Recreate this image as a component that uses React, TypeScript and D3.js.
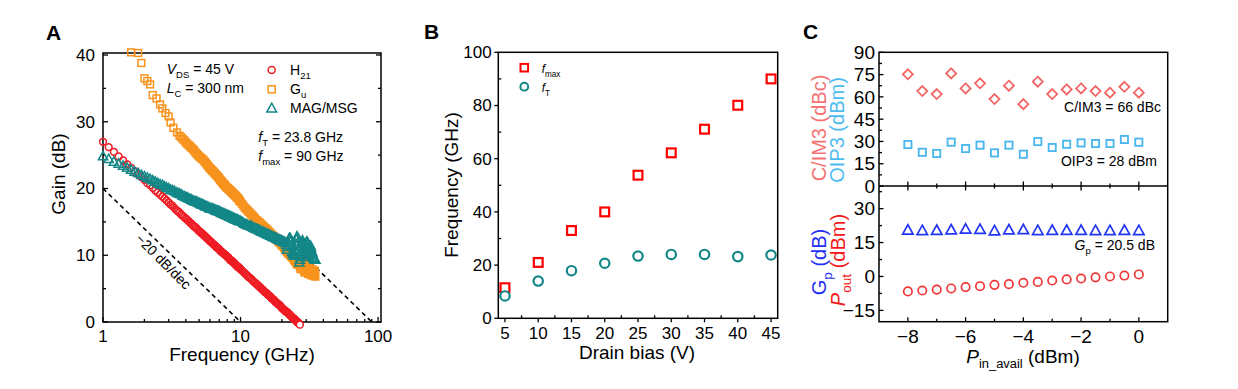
import React from 'react';
import * as d3 from 'd3';

const FONT = 'Arial, "Liberation Sans", Helvetica, sans-serif';

// ---- Panel A: gain vs frequency (GHz / dB) ----
// measurement sweep shared by H21 and MAG/MSG
const freqA = [1.0, 1.1, 1.2, 1.3, 1.4, 1.5, 1.6, 1.7, 1.8, 1.9, 2.0, 2.1, 2.2, 2.3, 2.4, 2.5, 2.6, 2.7, 2.8, 2.9, 3.0,
  3.1, 3.2, 3.3, 3.4, 3.5, 3.6, 3.7, 3.8, 3.9, 4.0, 4.1, 4.2, 4.3, 4.4, 4.5, 4.6, 4.7, 4.8, 4.9, 5.0,
  5.1, 5.2, 5.3, 5.4, 5.5, 5.6, 5.7, 5.8, 5.9, 6.0, 6.1, 6.2, 6.3, 6.4, 6.5, 6.6, 6.7, 6.8, 6.9, 7.0,
  7.1, 7.2, 7.3, 7.4, 7.5, 7.6, 7.7, 7.8, 7.9, 8.0, 8.1, 8.2, 8.3, 8.4, 8.5, 8.6, 8.7, 8.8, 8.9, 9.0,
  9.1, 9.2, 9.3, 9.4, 9.5, 9.6, 9.7, 9.8, 9.9, 10.0,
  10.25, 10.5, 10.75, 11, 11.25, 11.5, 11.75, 12, 12.25, 12.5, 12.75, 13, 13.25, 13.5, 13.75, 14, 14.25, 14.5, 14.75, 15,
  15.25, 15.5, 15.75, 16, 16.25, 16.5, 16.75, 17, 17.25, 17.5, 17.75, 18, 18.25, 18.5, 18.75, 19, 19.25, 19.5, 19.75, 20,
  20.25, 20.5, 20.75, 21, 21.25, 21.5, 21.75, 22, 22.25, 22.5, 22.75, 23, 23.25, 23.5, 23.75, 24, 24.25, 24.5, 24.75, 25,
  25.25, 25.5, 25.75, 26, 26.25, 26.5, 26.75, 27, 27.25, 27.5, 27.75, 28, 28.25, 28.5, 28.75, 29, 29.25, 29.5, 29.75, 30,
  30.25, 30.5, 30.75, 31, 31.25, 31.5, 31.75, 32, 32.25, 32.5, 32.75, 33, 33.25, 33.5, 33.75, 34, 34.25, 34.5, 34.75, 35];
const h21Gain = [27.0, 26.2, 25.5, 24.8, 24.2, 23.6, 23.1, 22.6, 22.1, 21.7, 21.3, 20.8, 20.5, 20.1, 19.7, 19.4, 19.1, 18.8, 18.5, 18.2, 17.9,
  17.6, 17.4, 17.1, 16.8, 16.6, 16.4, 16.1, 15.9, 15.7, 15.5, 15.3, 15.1, 14.9, 14.7, 14.5, 14.3, 14.2, 14.0, 13.8, 13.6,
  13.5, 13.3, 13.2, 13.0, 12.9, 12.7, 12.6, 12.4, 12.3, 12.1, 12.0, 11.9, 11.7, 11.6, 11.5, 11.3, 11.2, 11.1, 11.0, 10.9,
  10.7, 10.6, 10.5, 10.4, 10.3, 10.2, 10.1, 10.0, 9.9, 9.8, 9.7, 9.6, 9.4, 9.3, 9.2, 9.2, 9.1, 9.0, 8.9, 8.8,
  8.7, 8.6, 8.5, 8.4, 8.3, 8.2, 8.2, 8.1, 8.0, 7.9,
  7.7, 7.5, 7.3, 7.1, 6.9, 6.7, 6.6, 6.4, 6.2, 6.0, 5.9, 5.7, 5.6, 5.4, 5.3, 5.1, 5.0, 4.8, 4.7, 4.5,
  4.4, 4.3, 4.1, 4.0, 3.9, 3.8, 3.6, 3.5, 3.4, 3.3, 3.1, 3.0, 2.9, 2.8, 2.7, 2.6, 2.5, 2.4, 2.2, 2.1,
  2.0, 1.9, 1.8, 1.7, 1.6, 1.6, 1.5, 1.4, 1.3, 1.2, 1.1, 1.0, 0.9, 0.8, 0.7, 0.6, 0.5, 0.5, 0.4, 0.3,
  0.2, 0.1, 0.0, 0.0, -0.1, -0.2, -0.3, -0.4];
const magGain = [24.8, 24.4, 24.0, 23.7, 23.4, 23.1, 22.8, 22.5, 22.3, 22.0, 21.8, 21.6, 21.4, 21.2, 21.0, 20.8, 20.6, 20.5, 20.3, 20.1, 20.0,
  19.8, 19.7, 19.6, 19.4, 19.3, 19.2, 19.1, 18.9, 18.8, 18.7, 18.6, 18.5, 18.4, 18.3, 18.2, 18.1, 18.0, 18.0, 17.9, 17.8,
  17.7, 17.6, 17.6, 17.5, 17.4, 17.3, 17.3, 17.2, 17.1, 17.0, 17.0, 17.0, 16.9, 16.9, 16.8, 16.7, 16.7, 16.6, 16.6, 16.5,
  16.5, 16.4, 16.3, 16.3, 16.2, 16.2, 16.1, 16.1, 16.0, 16.0, 15.9, 15.9, 15.8, 15.8, 15.7, 15.7, 15.6, 15.6, 15.5, 15.5,
  15.4, 15.4, 15.3, 15.3, 15.3, 15.2, 15.2, 15.1, 15.1, 15.1,
  15.0, 14.8, 14.7, 14.6, 14.5, 14.4, 14.4, 14.3, 14.2, 14.1, 14.0, 13.9, 13.9, 13.8, 13.7, 13.6, 13.5, 13.5, 13.4, 13.3,
  13.3, 13.2, 13.1, 13.1, 13.0, 12.9, 12.9, 12.8, 12.7, 12.7, 12.6, 12.6, 12.5, 12.4, 12.4, 12.3, 12.3, 12.2, 12.2, 12.1,
  12.1, 12.0, 12.0, 11.9, 11.8, 11.5, 10.8, 11.2, 11.9, 12.4, 12.6, 12.5, 12.1, 11.3, 10.5, 10.2, 10.4, 10.0, 9.9, 10.6,
  11.6, 12.4, 12.8, 12.6, 12.0, 10.9, 8.9, 9.3, 9.8, 10.5, 11.3, 11.9, 12.2, 11.8, 10.9, 10.0, 9.7, 10.1, 10.8, 11.5,
  12.0, 12.0, 11.6, 11.0, 10.5, 10.3, 10.6, 11.2, 11.4, 11.1, 10.7, 10.5, 10.3, 10.0, 9.8, 9.6, 9.5, 9.4, 9.3, 9.3];
const guFreq = [1.6, 1.8, 1.9, 2.0, 2.1, 2.2, 2.3, 2.45, 2.6, 2.7, 2.85, 3.0, 3.1, 3.25, 3.45, 3.6,
  3.7, 3.8, 3.9, 4.0, 4.1, 4.2, 4.3, 4.4, 4.5, 4.6, 4.7, 4.8, 4.9, 5.0,
  5.1, 5.2, 5.3, 5.4, 5.5, 5.6, 5.7, 5.8, 5.9, 6.0, 6.1, 6.2, 6.3, 6.4, 6.5, 6.6, 6.7, 6.8, 6.9, 7.0,
  7.1, 7.2, 7.3, 7.4, 7.5, 7.6, 7.7, 7.8, 7.9, 8.0, 8.1, 8.2, 8.3, 8.4, 8.5, 8.6, 8.7, 8.8, 8.9, 9.0,
  9.1, 9.2, 9.3, 9.4, 9.5, 9.6, 9.7, 9.8, 9.9, 10.0,
  10.25, 10.5, 10.75, 11, 11.25, 11.5, 11.75, 12, 12.25, 12.5, 12.75, 13, 13.25, 13.5, 13.75, 14, 14.25, 14.5, 14.75, 15,
  15.25, 15.5, 15.75, 16, 16.25, 16.5, 16.75, 17, 17.25, 17.5, 17.75, 18, 18.25, 18.5, 18.75, 19, 19.25, 19.5, 19.75, 20,
  20.25, 20.5, 20.75, 21, 21.25, 21.5, 21.75, 22, 22.25, 22.5, 22.75, 23, 23.25, 23.5, 23.75, 24, 24.25, 24.5, 24.75, 25,
  25.25, 25.5, 25.75, 26, 26.25, 26.5, 26.75, 27, 27.25, 27.5, 27.75, 28, 28.25, 28.5, 28.75, 29, 29.25, 29.5, 29.75, 30,
  30.25, 30.5, 30.75, 31, 31.25, 31.5, 31.75, 32, 32.25, 32.5, 32.75, 33, 33.25, 33.5, 33.75, 34, 34.25, 34.5, 34.75, 35];
const guGain = [40.4, 40.3, 38.8, 36.5, 36.1, 35.6, 34.0, 33.5, 32.6, 32.0, 31.3, 30.8, 29.9, 29.1, 28.4, 27.9,
  27.7, 27.4, 27.2, 26.9, 26.7, 26.5, 26.3, 26.1, 25.9, 25.7, 25.4, 25.2, 25.0, 24.8,
  24.7, 24.5, 24.4, 24.2, 24.0, 23.8, 23.6, 23.4, 23.2, 23.0, 22.9, 22.7, 22.6, 22.4, 22.3, 22.1, 22.0, 21.8, 21.7, 21.5,
  21.3, 21.2, 21.0, 20.9, 20.7, 20.6, 20.5, 20.3, 20.2, 20.1, 20.0, 19.9, 19.8, 19.7, 19.6, 19.5, 19.4, 19.3, 19.2, 19.1,
  19.0, 18.9, 18.8, 18.7, 18.6, 18.5, 18.4, 18.2, 18.1, 18.0,
  17.7, 17.4, 17.1, 16.9, 16.7, 16.5, 16.3, 16.1, 15.9, 15.7, 15.5, 15.3, 15.2, 15.0, 14.9, 14.7, 14.6, 14.4, 14.3, 14.1,
  14.0, 13.9, 13.7, 13.6, 13.4, 13.3, 13.1, 13.0, 12.9, 12.8, 12.6, 12.5, 12.4, 12.3, 12.1, 12.0, 11.9, 11.8, 11.6, 11.5,
  11.4, 11.3, 11.1, 11.0, 10.8, 10.7, 10.5, 10.4, 10.3, 10.2, 10.1, 10.0, 9.9, 9.8, 9.7, 9.6, 9.5, 9.3, 9.2, 9.1,
  9.0, 8.8, 8.7, 8.6, 8.8, 8.9, 8.6, 8.3, 8.0, 7.9, 8.2, 8.6, 8.8, 8.5, 8.0, 7.6, 7.4, 7.7, 8.2, 8.5,
  8.3, 7.8, 7.4, 7.2, 7.5, 7.9, 8.1, 7.8, 7.4, 7.0, 7.2, 7.6, 7.9, 7.6, 7.2, 6.9, 7.0, 7.4, 7.7, 6.8];
// -20 dB/dec guide lines: [start, end]
const guideFreq = [[1, 10], [22, 90]];
const guideGain = [[20, 0], [12.3, 0]];
const aYTicks = [0, 10, 20, 30, 40];
const aXTicks = [1, 10, 100];

// ---- Panel B: fmax / fT vs drain bias ----
const biasV = [5, 10, 15, 20, 25, 30, 35, 40, 45];
const fmaxB = [11.5, 21, 33, 40, 53.8, 62.2, 71.1, 80.1, 90];
const ftB = [8.4, 14, 17.9, 20.7, 23.4, 24, 24, 23.2, 23.8];
const bYTicks = [0, 20, 40, 60, 80, 100];

// ---- Panel C: linearity vs input power ----
const pin = [-8, -7.5, -7, -6.5, -6, -5.5, -5, -4.5, -4, -3.5, -3, -2.5, -2, -1.5, -1, -0.5, 0];
const cim3 = [75.2, 63.9, 61.9, 75.8, 65.7, 69.1, 58.5, 67.5, 55.1, 70.2, 61.9, 65.0, 65.7, 63.9, 62.8, 66.8, 62.8];
const oip3 = [27.9, 22.7, 21.9, 29.5, 25.2, 27.5, 22.3, 27.5, 21.4, 29.9, 25.9, 28.1, 29.0, 28.6, 28.6, 31.3, 29.5];
const gp = [20.4, 20.2, 20.3, 20.5, 20.8, 20.7, 20.1, 20.5, 20.6, 20.2, 20.3, 20.3, 20.3, 20.2, 20.2, 20.3, 20.2];
const pout = [-6.6, -6.2, -5.8, -5.3, -4.7, -4.3, -3.7, -3.4, -2.8, -2.4, -1.8, -1.3, -0.9, -0.4, 0.0, 0.4, 0.9];
const cTopTicks = [0, 15, 30, 45, 60, 75, 90];
const cBotTicks = [-15, 0, 15, 30];
const cXTicks = [-8, -6, -4, -2, 0];

const RED = '#ee1c24';
const ORANGE = '#f7931e';
const TEAL = '#138787';

type Part = { t: string; sub?: boolean; it?: boolean };

function Rich({ x, y, parts, size, anchor = 'start', fill = '#000', transform }:
  { x?: number; y?: number; parts: Part[]; size: number; anchor?: string; fill?: string; transform?: string }) {
  let shift = 0;
  return (
    <text x={x} y={y} fontSize={size} textAnchor={anchor} fill={fill} transform={transform} fontFamily={FONT}>
      {parts.map((p, i) => {
        const target = p.sub ? size * 0.3 : 0;
        const dy = target - shift;
        shift = target;
        return (
          <tspan key={i} dy={dy} fontSize={p.sub ? size * 0.68 : size} fontStyle={p.it ? 'italic' : 'normal'} fill={fill}>
            {p.t}
          </tspan>
        );
      })}
    </text>
  );
}

const triPath = (cx: number, cy: number, s: number) =>
  `M${cx},${cy - s * 0.62}L${cx + s * 0.58},${cy + s * 0.42}L${cx - s * 0.58},${cy + s * 0.42}Z`;
const diaPath = (cx: number, cy: number, s: number) =>
  `M${cx},${cy - s}L${cx + s},${cy}L${cx},${cy + s}L${cx - s},${cy}Z`;

const fmtMinus = (v: number) => (v < 0 ? '\u2212' + Math.abs(v) : String(v));

export default function App() {
  // scales
  const xA = d3.scaleLog().domain([1, 105]).range([103, 381]);
  const yA = d3.scaleLinear().domain([0, 40.3]).range([322, 53]);
  const xB = d3.scaleLinear().domain([4, 46]).range([498.3, 777.7]);
  const yB = d3.scaleLinear().domain([0, 100]).range([318.3, 52.3]);
  const xC = d3.scaleLinear().domain([-9, 1]).range([879, 1167.7]);
  const yCt = d3.scaleLinear().domain([0, 90]).range([186, 52.3]);
  const yCb = d3.scaleLinear().domain([-20, 40]).range([321.7, 186]);

  const aMinorX = xA.ticks().filter(t => !aXTicks.includes(t));
  const aMinorY = yA.ticks(8).filter(t => !aYTicks.includes(t));
  const bMinorX = d3.range(7.5, 45, 5);
  const bMinorY = [10, 30, 50, 70, 90];
  const cMinorX = [-7, -5, -3, -1];
  const cMinorTop = [7.5, 22.5, 37.5, 52.5, 67.5, 82.5];
  const cMinorBot = [-7.5, 7.5, 22.5, 37.5];

  const axis = { stroke: '#000', strokeWidth: 1.5, fill: 'none' };
  const tick = { stroke: '#000', strokeWidth: 1.3 };

  const [aL, aR] = xA.range();
  const [aB, aT] = yA.range();
  const [bL, bR] = xB.range();
  const [bB, bT] = yB.range();
  const [cL, cR] = xC.range();
  const cMid = yCt(0);
  const cB = yCb(-20);
  const cT = yCt(90);
  const lastH = h21Gain.length - 1;

  return (
    <svg width={1238} height={389} style={{ position: 'absolute', left: 0, top: 0, background: '#fff' }}
      fontFamily={FONT}>
      <rect width={1238} height={389} fill="#fff" />

      {/* ================= Panel A ================= */}
      <text x={46} y={40} fontSize={21} fontWeight="bold">A</text>
      <rect x={aL} y={aT} width={aR - aL} height={aB - aT} {...axis} />
      {aXTicks.map(t => (
        <g key={'ax' + t}>
          <line x1={xA(t)} x2={xA(t)} y1={aB} y2={aB - 5} {...tick} />
          <text x={xA(t)} y={342} fontSize={17} textAnchor="middle">{t}</text>
        </g>
      ))}
      {aMinorX.map(t => <line key={'amx' + t} x1={xA(t)} x2={xA(t)} y1={aB} y2={aB - 3} {...tick} />)}
      {aYTicks.map(t => (
        <g key={'ay' + t}>
          <line x1={aL} x2={aL + 5} y1={yA(t)} y2={yA(t)} {...tick} />
          <line x1={aR} x2={aR - 5} y1={yA(t)} y2={yA(t)} {...tick} />
          <text x={95} y={yA(t)} dy="0.35em" fontSize={17} textAnchor="end">{t}</text>
        </g>
      ))}
      {aMinorY.map(t => (
        <g key={'amy' + t}>
          <line x1={aL} x2={aL + 3} y1={yA(t)} y2={yA(t)} {...tick} />
          <line x1={aR} x2={aR - 3} y1={yA(t)} y2={yA(t)} {...tick} />
        </g>
      ))}
      {/* guide lines */}
      {guideFreq.map((fs, i) => (
        <line key={i} x1={xA(fs[0])} y1={yA(guideGain[i][0])} x2={xA(fs[1])} y2={yA(guideGain[i][1])}
          stroke="#000" strokeWidth={1.6} strokeDasharray="4.5,3.5" />
      ))}
      {/* H21 */}
      {h21Gain.map((g, i) => (
        <circle key={'h' + i} cx={xA(freqA[i])} cy={yA(g)} r={3.4}
          fill={i === lastH ? '#fff' : 'none'} stroke={RED} strokeWidth={1.5} />
      ))}
      {/* Gu */}
      {guGain.map((g, i) => (
        <rect key={'g' + i} x={xA(guFreq[i]) - 3.4} y={yA(g) - 3.4} width={6.8} height={6.8} fill="none"
          stroke={ORANGE} strokeWidth={1.5} />
      ))}
      {/* MAG/MSG */}
      {magGain.map((g, i) => (
        <path key={'m' + i} d={triPath(xA(freqA[i]), yA(g), 8)} fill="none" stroke={TEAL} strokeWidth={1.5} />
      ))}
      <text transform="translate(65,174) rotate(-90)" fontSize={19} textAnchor="middle">Gain (dB)</text>
      <text x={(aL + aR) / 2} y={361} fontSize={19} textAnchor="middle">Frequency (GHz)</text>
      <text transform="translate(160,265) rotate(45)" fontSize={14} textAnchor="middle">{'\u221220 dB/dec'}</text>
      {/* annotations */}
      <Rich x={166.7} y={74} size={14} parts={[{ t: 'V', it: true }, { t: 'DS', sub: true }, { t: ' = 45 V' }]} />
      <Rich x={166.7} y={93} size={14} parts={[{ t: 'L', it: true }, { t: 'C', sub: true }, { t: ' = 300 nm' }]} />
      <Rich x={258.3} y={142} size={14} parts={[{ t: 'f', it: true }, { t: 'T', sub: true }, { t: ' = 23.8 GHz' }]} />
      <Rich x={258.3} y={160.5} size={14} parts={[{ t: 'f', it: true }, { t: 'max', sub: true }, { t: ' = 90 GHz' }]} />
      {/* legend */}
      <circle cx={271.7} cy={70} r={3.5} fill="none" stroke={RED} strokeWidth={1.5} />
      <rect x={268.2} y={85.8} width={7} height={7} fill="none" stroke={ORANGE} strokeWidth={1.5} />
      <path d={triPath(271.7, 108.5, 8.5)} fill="none" stroke={TEAL} strokeWidth={1.5} />
      <Rich x={290} y={75} size={14} parts={[{ t: 'H' }, { t: '21', sub: true }]} />
      <Rich x={290} y={94} size={14} parts={[{ t: 'G' }, { t: 'u', sub: true }]} />
      <text x={290} y={113} fontSize={14}>MAG/MSG</text>

      {/* ================= Panel B ================= */}
      <text x={424} y={38.5} fontSize={21} fontWeight="bold">B</text>
      <rect x={bL} y={bT} width={bR - bL} height={bB - bT} {...axis} />
      {biasV.map(t => (
        <g key={'bx' + t}>
          <line x1={xB(t)} x2={xB(t)} y1={bB} y2={bB + 4} {...tick} />
          <text x={xB(t)} y={338.5} fontSize={17} textAnchor="middle">{t}</text>
        </g>
      ))}
      {bMinorX.map(t => <line key={'bmx' + t} x1={xB(t)} x2={xB(t)} y1={bB} y2={bB - 3} {...tick} />)}
      {bYTicks.map(t => (
        <g key={'by' + t}>
          <line x1={bL} x2={bL - 4} y1={yB(t)} y2={yB(t)} {...tick} />
          <text x={491.7} y={yB(t)} dy="0.35em" fontSize={17} textAnchor="end">{t}</text>
        </g>
      ))}
      {bMinorY.map(t => <line key={'bmy' + t} x1={bL} x2={bL + 3} y1={yB(t)} y2={yB(t)} {...tick} />)}
      <text transform="translate(458,185) rotate(-90)" fontSize={19} textAnchor="middle">Frequency (GHz)</text>
      <text x={637} y={359} fontSize={19} textAnchor="middle">Drain bias (V)</text>
      {fmaxB.map((v, i) => (
        <rect key={'bf' + i} x={xB(biasV[i]) - 4.4} y={yB(v) - 4.4} width={8.8} height={8.8} fill="#fff"
          stroke="#ff0000" strokeWidth={2.2} />
      ))}
      {ftB.map((v, i) => (
        <circle key={'bt' + i} cx={xB(biasV[i])} cy={yB(v)} r={4.7} fill="#fff" stroke={TEAL} strokeWidth={2.2} />
      ))}
      <rect x={520.5} y={63.9} width={7.6} height={7.6} fill="none" stroke="#ff0000" strokeWidth={2} />
      <circle cx={524.3} cy={86.7} r={3.9} fill="none" stroke={TEAL} strokeWidth={2} />
      <Rich x={541.7} y={73} size={12} parts={[{ t: 'f', it: true }, { t: 'max', sub: true }]} />
      <Rich x={541.7} y={92} size={12} parts={[{ t: 'f', it: true }, { t: 'T', sub: true }]} />

      {/* ================= Panel C ================= */}
      <text x={803} y={38.5} fontSize={21} fontWeight="bold">C</text>
      <rect x={cL} y={cT} width={cR - cL} height={cB - cT} {...axis} />
      <line x1={cL} x2={cR} y1={cMid} y2={cMid} {...axis} />
      {cXTicks.map(t => (
        <g key={'cx' + t}>
          <line x1={xC(t)} x2={xC(t)} y1={cMid - 4.5} y2={cMid + 4.5} {...tick} />
          <line x1={xC(t)} x2={xC(t)} y1={cB} y2={cB - 4.5} {...tick} />
          <text x={xC(t)} y={343} fontSize={19} textAnchor="middle">{fmtMinus(t)}</text>
        </g>
      ))}
      {cMinorX.map(t => (
        <g key={'cmx' + t}>
          <line x1={xC(t)} x2={xC(t)} y1={cMid - 2.5} y2={cMid + 2.5} {...tick} />
          <line x1={xC(t)} x2={xC(t)} y1={cB} y2={cB - 3} {...tick} />
        </g>
      ))}
      {cTopTicks.map(t => (
        <g key={'cty' + t}>
          <line x1={cL} x2={cL + 4.5} y1={yCt(t)} y2={yCt(t)} {...tick} />
          <text x={875} y={yCt(t)} dy="0.35em" fontSize={19} textAnchor="end">{t}</text>
        </g>
      ))}
      {cMinorTop.map(t => <line key={'cmt' + t} x1={cL} x2={cL + 3} y1={yCt(t)} y2={yCt(t)} {...tick} />)}
      {cBotTicks.map(t => (
        <g key={'cby' + t}>
          <line x1={cL} x2={cL + 4.5} y1={yCb(t)} y2={yCb(t)} {...tick} />
          <text x={875} y={yCb(t)} dy="0.35em" fontSize={19} textAnchor="end">{fmtMinus(t)}</text>
        </g>
      ))}
      {cMinorBot.map(t => <line key={'cmb' + t} x1={cL} x2={cL + 3} y1={yCb(t)} y2={yCb(t)} {...tick} />)}
      {cim3.map((v, i) => (
        <path key={'ci' + i} d={diaPath(xC(pin[i]), yCt(v), 5)} fill="none" stroke="#f26565" strokeWidth={1.8} />
      ))}
      {oip3.map((v, i) => (
        <rect key={'co' + i} x={xC(pin[i]) - 3.6} y={yCt(v) - 3.6} width={7.2} height={7.2} fill="none"
          stroke="#47b5ee" strokeWidth={1.8} />
      ))}
      {gp.map((v, i) => (
        <path key={'cg' + i} d={triPath(xC(pin[i]), yCb(v), 9)} fill="none" stroke="#2236f2" strokeWidth={1.7} />
      ))}
      {pout.map((v, i) => (
        <circle key={'cp' + i} cx={xC(pin[i])} cy={yCb(v)} r={4.2} fill="none" stroke="#f23636" strokeWidth={1.7} />
      ))}
      <text x={1161} y={112} fontSize={14} textAnchor="end">C/IM3 = 66 dBc</text>
      <text x={1157} y={166} fontSize={14} textAnchor="end">OIP3 = 28 dBm</text>
      <Rich x={1155} y={250} size={14} anchor="end"
        parts={[{ t: 'G', it: true }, { t: 'p', sub: true }, { t: ' = 20.5 dB' }]} />
      <text transform="translate(825.5,128) rotate(-90)" fontSize={20} textAnchor="middle" fill="#f47272">C/IM3 (dBc)</text>
      <text transform="translate(844,130) rotate(-90)" fontSize={20} textAnchor="middle" fill="#4dbbf0">OIP3 (dBm)</text>
      <Rich transform="translate(825.5,262) rotate(-90)" size={20} anchor="middle" fill="#1f2ff5"
        parts={[{ t: 'G' }, { t: 'p', sub: true }, { t: ' (dB)' }]} />
      <Rich transform="translate(845,260) rotate(-90)" size={20} anchor="middle" fill="#f51a1a"
        parts={[{ t: 'P', it: true }, { t: 'out', sub: true }, { t: ' (dBm)' }]} />
      <Rich x={1023} y={362.5} size={19} anchor="middle"
        parts={[{ t: 'P', it: true }, { t: 'in_avail', sub: true }, { t: ' (dBm)' }]} />
    </svg>
  );
}
